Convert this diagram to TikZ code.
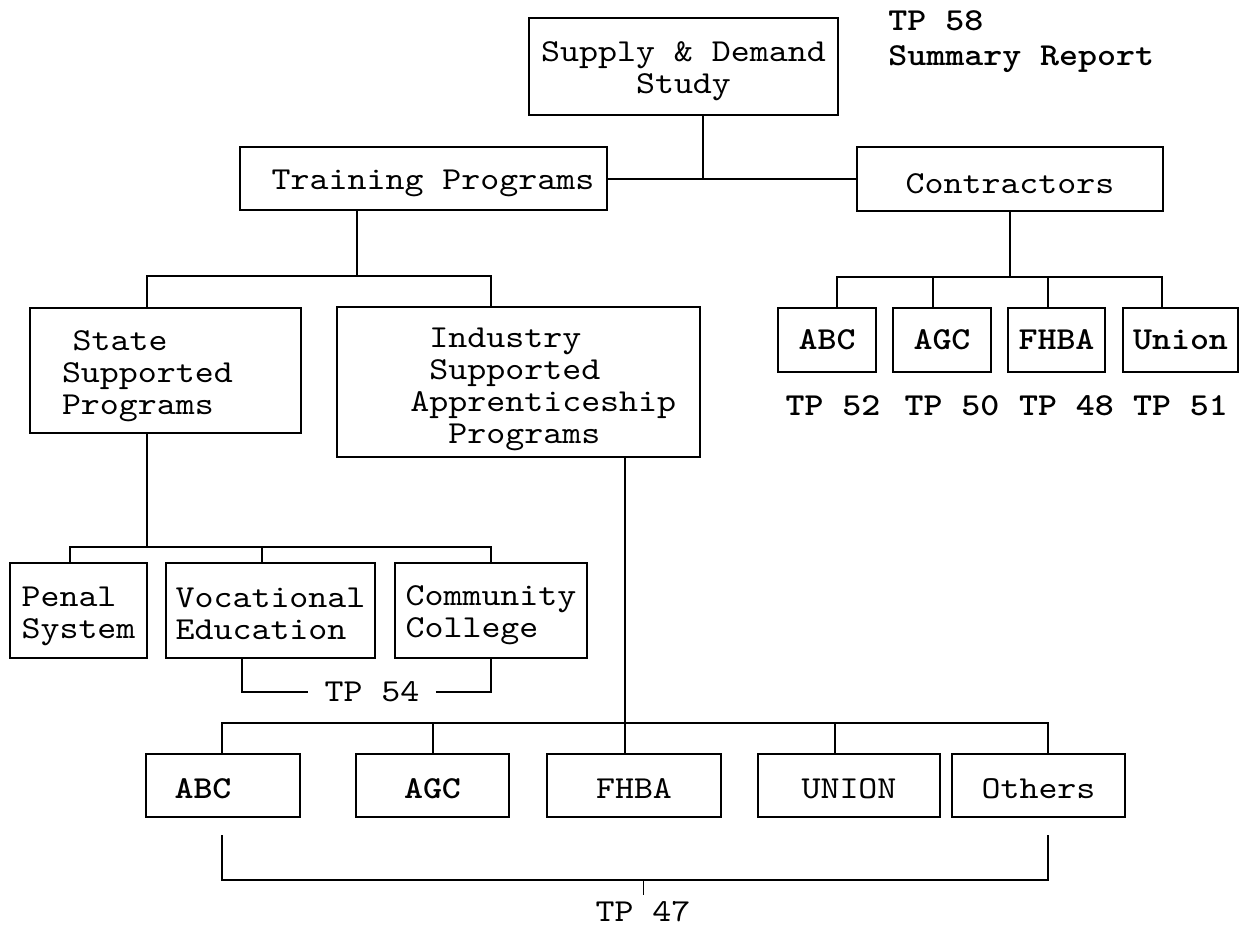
\documentclass[tikz,border=0pt]{standalone}
\usepackage{fontspec}
\setmonofont{lmmono10-regular.otf}[BoldFont=lmmonolt10-bold.otf,FakeStretch=1.13]
\usepackage{tikz}
\usetikzlibrary{positioning}
\newcommand{\tpad}[1]{\rule{0pt}{#1}}

\begin{document}
\begin{tikzpicture}[x=0.5pt,y=-0.5pt,
  every node/.style={font=\ttfamily\fontsize{16}{16}\selectfont},
  box/.style={draw,line width=1pt,inner sep=0pt},
  tplabel/.style={inner sep=3pt},
  tpbold/.style={inner sep=3pt,font=\ttfamily\bfseries\fontsize{16}{16}\selectfont},
  link/.style={line width=1pt}]
\useasboundingbox (0,0) rectangle (1243,930);

% top level
\node[box,align=center,minimum width=154.5pt,minimum height=48.5pt] (supply) at (683.5,66.5) {\tpad{15pt}Supply \& Demand\\Study};
\node[tpbold,anchor=north west,align=left,inner sep=0pt,font=\ttfamily\bfseries\fontsize{16}{17.5}\selectfont] (tp58) at (888,10) {TP 58\\Summary Report};
\node[box,minimum width=183.5pt,minimum height=31.5pt] (train) at (423.5,179) {\tpad{14.5pt}\ Training Programs};
\node[box,minimum width=153pt,minimum height=32pt] (contr) at (1010,179) {\tpad{15pt}Contractors};
\coordinate (top) at (703,179);
\draw[link] (supply.south -| top) -- (top);
\draw[link] (train.east) -- (contr.west);

% training programs
\coordinate (tr) at (357,276);
\coordinate (trl) at (147,276);
\coordinate (trr) at (491,276);
\node[box,align=left,text width=103.5pt,inner xsep=16pt,minimum height=62.5pt] (state) at (165.5,370.5) {\tpad{16pt}\ State\\Supported\\Programs};
\node[box,minimum width=181.5pt,minimum height=75pt] (indus) at (518.5,382) {};
\node[align=left,anchor=west,inner sep=0pt] (industxt) at (410,389) {\ Industry\\\ Supported\\Apprenticeship\\\ \ Programs};
\draw[link] (train.south -| tr) -- (tr);
\draw[link] (state.north -| trl) -- (trl) -- (trr) -- (indus.north -| trr);

% contractors
\coordinate (cr) at (1010,277);
\coordinate (c1) at (837,277);
\coordinate (c2) at (933,277);
\coordinate (c3) at (1048,277);
\coordinate (c4) at (1162,277);
\node[box,minimum width=49pt,minimum height=32pt,font=\ttfamily\bfseries\fontsize{16}{16}\selectfont] (cabc) at (827,340) {ABC};
\node[box,minimum width=49pt,minimum height=32pt,font=\ttfamily\bfseries\fontsize{16}{16}\selectfont] (cagc) at (942,340) {AGC};
\node[box,minimum width=48.5pt,minimum height=32pt,font=\ttfamily\bfseries\fontsize{16}{16}\selectfont] (cfhba) at (1056.5,340) {FHBA};
\node[box,minimum width=57.5pt,minimum height=32pt,font=\ttfamily\bfseries\fontsize{16}{16}\selectfont] (cuni) at (1180.5,340) {Union};
\draw[link] (contr.south) -- (cr);
\draw[link] (cabc.north -| c1) -- (c1) -- (c4) -- (cuni.north -| c4);
\draw[link] (cagc.north -| c2) -- (c2);
\draw[link] (cfhba.north -| c3) -- (c3);
\node[tpbold] (tp52) at ([xshift=3pt,yshift=-16.5pt]cabc.south) {TP 52};
\node[tpbold] (tp50) at ([xshift=5pt,yshift=-16.5pt]cagc.south) {TP 50};
\node[tpbold] (tp48) at ([xshift=5pt,yshift=-16.5pt]cfhba.south) {TP 48};
\node[tpbold] (tp51) at ([yshift=-16.5pt]cuni.south) {TP 51};

% state supported
\coordinate (sb) at (147,547);
\coordinate (s1) at (70,547);
\coordinate (s2) at (262,547);
\coordinate (s3) at (491,547);
\node[box,align=left,minimum width=68.5pt,minimum height=47.5pt] (penal) at (78.5,610.5) {\tpad{16pt}Penal\\System};
\node[box,align=left,minimum width=104.5pt,minimum height=47.5pt] (voc) at (270.5,610.5) {\tpad{13pt}Vocational\\Education};
\node[box,align=left,minimum width=96pt,minimum height=47.5pt] (comm) at (491,610.5) {\tpad{14.5pt}Community\\College};
\draw[link] (state.south -| sb) -- (sb);
\draw[link] (penal.north -| s1) -- (s1) -- (s3) -- (comm.north -| s3);
\draw[link] (voc.north -| s2) -- (s2);
\coordinate (v1) at (242,692);
\coordinate (v2) at (491,692);
\node[tplabel,inner xsep=8pt] (tp54) at (372,692) {TP 54};
\draw[link] (voc.south -| v1) -- (v1) -- (tp54.west);
\draw[link] (tp54.east) -- (v2) -- (comm.south -| v2);

% industry supported
\coordinate (i1) at (625,723);
\coordinate (b1) at (222,723);
\coordinate (b2) at (433,723);
\coordinate (b3) at (835,723);
\coordinate (b4) at (1048,723);
\node[box,minimum width=77pt,minimum height=31.5pt,font=\ttfamily\bfseries\fontsize{16}{16}\selectfont] (labc) at (223,785.5) {\tpad{13pt}ABC\hspace*{20pt}};
\node[box,minimum width=76.5pt,minimum height=31.5pt,font=\ttfamily\bfseries\fontsize{16}{16}\selectfont] (lagc) at (432.5,785.5) {\tpad{13pt}AGC};
\node[box,minimum width=87pt,minimum height=31.5pt] (lfhba) at (634,785.5) {\tpad{13pt}FHBA};
\node[box,minimum width=91pt,minimum height=31.5pt] (luni) at (849,785.5) {\tpad{13pt}UNION};
\node[box,minimum width=86.5pt,minimum height=31.5pt] (loth) at (1038.5,785.5) {\tpad{13pt}Others};
\draw[link] (indus.south -| i1) -- (lfhba.north -| i1);
\draw[link] (labc.north -| b1) -- (b1) -- (b4) -- (loth.north -| b4);
\draw[link] (lagc.north -| b2) -- (b2);
\draw[link] (luni.north -| b3) -- (b3);

% TP 47 bracket
\coordinate (k0) at (222,835);
\coordinate (k1) at (222,880);
\coordinate (k2) at (1048,880);
\coordinate (k3) at (1048,835);
\coordinate (km) at (643,880);
\node[tplabel] (tp47) at (643,912) {TP 47};
\draw[link] (k0) -- (k1) -- (k2) -- (k3);
\draw[line width=0.5pt] (km) -- (tp47.north);
\end{tikzpicture}
\end{document}
